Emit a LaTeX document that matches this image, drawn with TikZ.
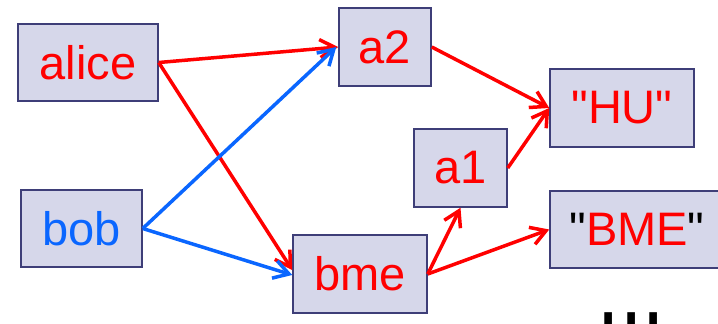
\documentclass[tikz,border=0pt]{standalone}
\usepackage{fontspec}
\setmainfont{Liberation Sans}[Ligatures=TeXOff]
\usetikzlibrary{arrows.meta}
\definecolor{boxfill}{RGB}{214,215,234}
\definecolor{boxdraw}{RGB}{62,62,120}
\definecolor{myred}{RGB}{255,0,0}
\definecolor{myblue}{RGB}{10,102,255}
\newcommand{\sq}{\char34}
\tikzset{
  box/.style={draw=boxdraw, fill=boxfill, line width=1.5pt, inner sep=0pt,
    font=\fontsize{47}{54}\selectfont, text=myred, anchor=center},
  redarr/.style={draw=myred, line width=3.5pt, -{Straight Barb[length=15pt,width=18pt,line width=3.5pt]}},
  bluearr/.style={draw=myblue, line width=3.5pt, -{Straight Barb[length=15pt,width=18pt,line width=3.5pt]}},
}
\begin{document}
\begin{tikzpicture}[x=1pt,y=-1pt]
\useasboundingbox (0,0) rectangle (718,324);
\clip (0,0) rectangle (718,324);
\node[box, minimum width=140pt, minimum height=77pt] (alice) at (88,62.5) {alice};
\node[box, minimum width=121pt, minimum height=77pt, text=myblue] (bob) at (81.5,228.5) {bob};
\node[box, minimum width=92pt, minimum height=78pt] (a2) at (385,47) {a2};
\node[box, minimum width=134pt, minimum height=78pt] (bme) at (360,274) {bme};
\node[box, minimum width=93pt, minimum height=78pt] (a1) at (460.5,168) {a1};
\node[box, minimum width=144pt, minimum height=78pt] (hu) at (622,108) {\sq HU\sq};
\node[box, minimum width=174pt, minimum height=77pt] (bmes) at (637,229.5) {\textcolor{black}{\sq}BME\textcolor{black}{\sq}};
\node[anchor=base west, inner sep=0pt, font=\fontsize{80}{90}\selectfont] (dots) at (597.6,325.5) {\scalebox{1}[1.5]{...}};

\draw[redarr] (alice.east) -- (a2.west);
\draw[redarr] (alice.east) -- ([yshift=4pt]bme.west);
\draw[bluearr] (bob.east) -- ([xshift=-2pt]a2.west);
\draw[bluearr] (bob.east) -- ([yshift=-1pt]bme.west);
\draw[redarr] (a2.east) -- (hu.west);
\draw[redarr] (a1.east) -- (hu.west);
\draw[redarr] (bme.east) -- (a1.south);
\draw[redarr] (bme.east) -- (bmes.west);
\end{tikzpicture}
\end{document}
